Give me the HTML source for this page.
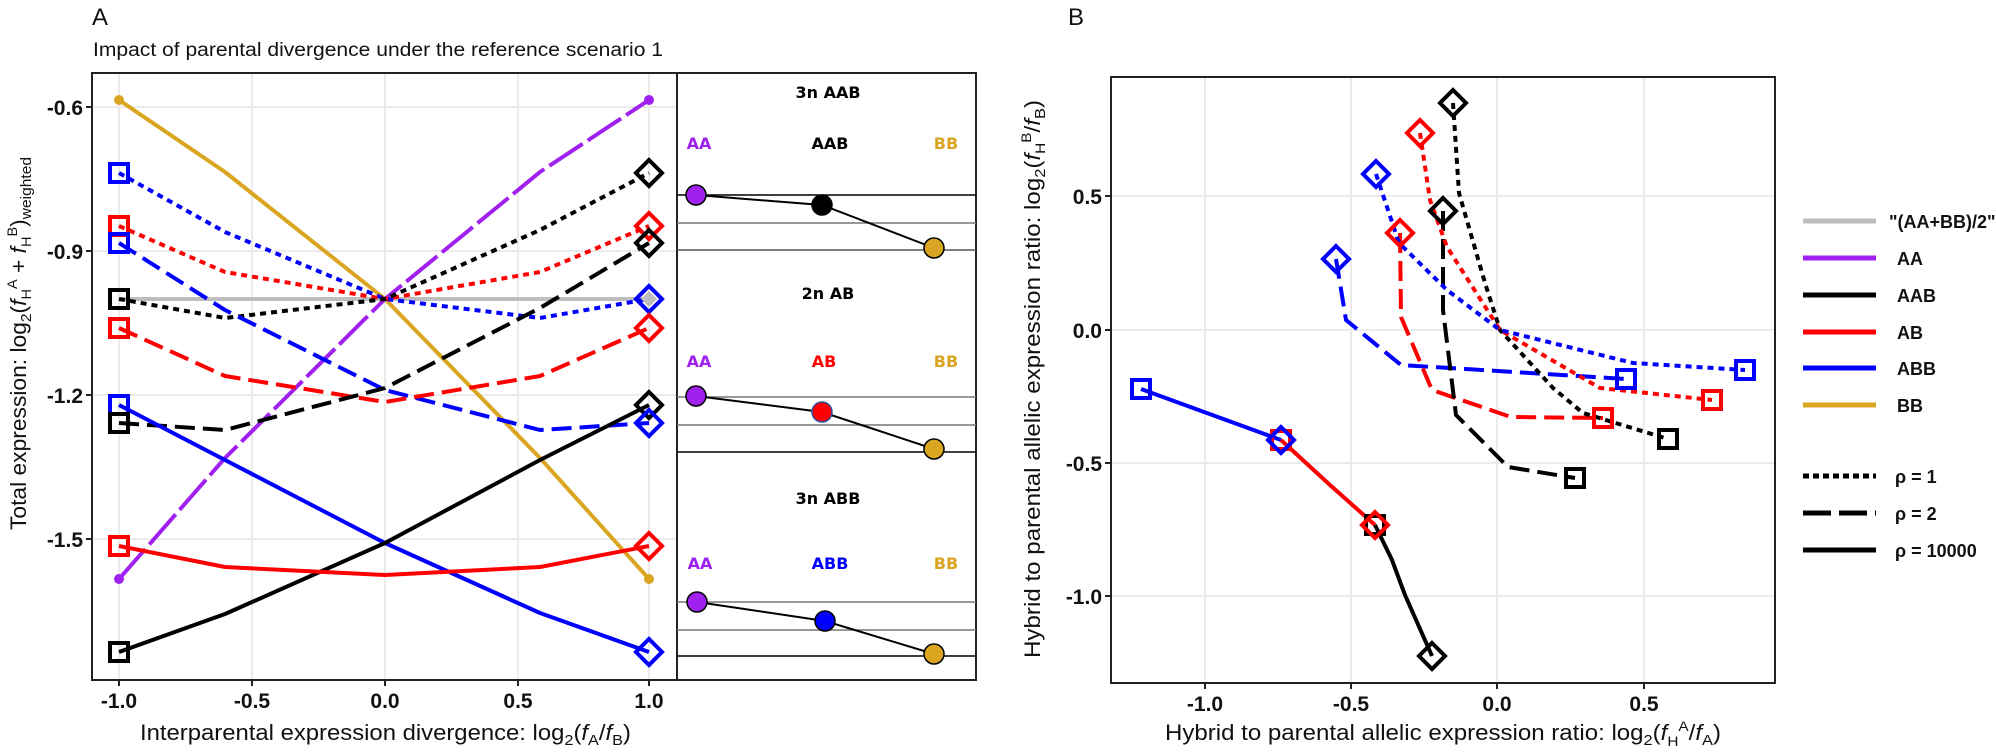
<!DOCTYPE html>
<html><head><meta charset="utf-8"><style>
html,body{margin:0;padding:0;background:#fff;}
svg{display:block;}
.tk{font-family:"Liberation Sans Narrow","Liberation Sans",sans-serif;font-weight:bold;font-size:21px;fill:#111;}
.ti{font-family:"Liberation Sans Narrow","Liberation Sans",sans-serif;font-size:22px;fill:#111;}
.in{font-family:"DejaVu Sans",sans-serif;font-weight:bold;font-size:16px;}
.lg{font-family:"Liberation Sans",sans-serif;font-weight:bold;font-size:18px;fill:#111;}
</style></head><body>
<svg width="1996" height="754" viewBox="0 0 1996 754" xmlns="http://www.w3.org/2000/svg">
<rect width="1996" height="754" fill="#fff"/>
<text x="92" y="25" font-family="Liberation Sans,sans-serif" font-size="24" fill="#111">A</text>
<text x="93" y="56" font-family="Liberation Sans,sans-serif" font-size="19" fill="#111" textLength="570" lengthAdjust="spacingAndGlyphs">Impact of parental divergence under the reference scenario 1</text>
<g stroke="#ebebeb" stroke-width="2">
<line x1="119" y1="73" x2="119" y2="680"/><line x1="252" y1="73" x2="252" y2="680"/><line x1="385" y1="73" x2="385" y2="680"/><line x1="518" y1="73" x2="518" y2="680"/><line x1="649" y1="73" x2="649" y2="680"/>
<line x1="92" y1="107" x2="677" y2="107"/><line x1="92" y1="251" x2="677" y2="251"/><line x1="92" y1="395" x2="677" y2="395"/><line x1="92" y1="539" x2="677" y2="539"/>
</g>
<g fill="none" stroke-width="4" stroke-linejoin="round">
<polyline stroke="#bdbdbd" points="119,299 649,299"/>
<polyline stroke="#daa520" points="119,100 225,172 385,299 540,458 649,579"/>
<polyline stroke="#a020f0" stroke-dasharray="40 6" points="119,579 225,458 385,299 540,172 649,100"/>
<polyline stroke="#0000ff" stroke-dasharray="6 5" points="119,173 225,232 385,299 540,318 649,299"/>
<polyline stroke="#ff0000" stroke-dasharray="6 5" points="119,226 225,272 385,299 540,272 649,226"/>
<polyline stroke="#000" stroke-dasharray="6 5" points="119,299 225,318 385,299 540,230 649,173"/>
<polyline stroke="#0000ff" stroke-dasharray="20 8" points="119,243 225,310 385,390 540,430 649,423"/>
<polyline stroke="#ff0000" stroke-dasharray="20 8" points="119,328 225,376 385,402 540,376 649,328"/>
<polyline stroke="#000" stroke-dasharray="20 8" points="119,423 225,430 385,388 540,308 649,243"/>
<polyline stroke="#0000ff" points="119,405 225,460 385,543 540,613 649,652"/>
<polyline stroke="#000" points="119,652 225,614 385,543 540,460 649,405"/>
<polyline stroke="#ff0000" points="119,546 225,567 385,575 540,567 649,546"/>
</g>
<g fill="#daa520"><circle cx="119" cy="100" r="5"/><circle cx="649" cy="579" r="5"/></g>
<g fill="#a020f0"><circle cx="119" cy="579" r="5"/><circle cx="649" cy="100" r="5"/></g>
<polygon points="649,291 657,299 649,307 641,299" fill="#bdbdbd"/>
<g fill="none" stroke-width="4">
<rect x="110" y="164" width="18" height="18" stroke="#0000ff"/>
<rect x="110" y="217" width="18" height="18" stroke="#ff0000"/>
<rect x="110" y="234" width="18" height="18" stroke="#0000ff"/>
<rect x="110" y="290" width="18" height="18" stroke="#000"/>
<rect x="110" y="319" width="18" height="18" stroke="#ff0000"/>
<rect x="110" y="396" width="18" height="18" stroke="#0000ff"/>
<rect x="110" y="414" width="18" height="18" stroke="#000"/>
<rect x="110" y="537" width="18" height="18" stroke="#ff0000"/>
<rect x="110" y="643" width="18" height="18" stroke="#000"/>
</g>
<g fill="none" stroke-width="4">
<polygon stroke="#000" points="649,160 662,173 649,186 636,173"/>
<polygon stroke="#ff0000" points="649,213 662,226 649,239 636,226"/>
<polygon stroke="#000" points="649,230 662,243 649,256 636,243"/>
<polygon stroke="#0000ff" points="649,286 662,299 649,312 636,299"/>
<polygon stroke="#ff0000" points="649,315 662,328 649,341 636,328"/>
<polygon stroke="#000" points="649,392 662,405 649,418 636,405"/>
<polygon stroke="#0000ff" points="649,410 662,423 649,436 636,423"/>
<polygon stroke="#ff0000" points="649,533 662,546 649,559 636,546"/>
<polygon stroke="#0000ff" points="649,639 662,652 649,665 636,652"/>
</g>
<rect x="92" y="73" width="585" height="607" fill="none" stroke="#222" stroke-width="2"/>
<g stroke="#222" stroke-width="2"><line x1="86" y1="107" x2="92" y2="107"/><line x1="86" y1="251" x2="92" y2="251"/><line x1="86" y1="395" x2="92" y2="395"/><line x1="86" y1="539" x2="92" y2="539"/>
<line x1="119" y1="680" x2="119" y2="686"/><line x1="252" y1="680" x2="252" y2="686"/><line x1="385" y1="680" x2="385" y2="686"/><line x1="518" y1="680" x2="518" y2="686"/><line x1="649" y1="680" x2="649" y2="686"/></g>
<g class="tk" text-anchor="end"><text x="83" y="115">-0.6</text><text x="83" y="259">-0.9</text><text x="83" y="403">-1.2</text><text x="83" y="547">-1.5</text></g>
<g class="tk" text-anchor="middle"><text x="119" y="708">-1.0</text><text x="252" y="708">-0.5</text><text x="385" y="708">0.0</text><text x="518" y="708">0.5</text><text x="649" y="708">1.0</text></g>
<text class="ti" x="140" y="740" textLength="491" lengthAdjust="spacingAndGlyphs">Interparental expression divergence: log<tspan font-size="15" dy="5">2</tspan><tspan dy="-5">(</tspan><tspan font-style="italic">f</tspan><tspan font-size="15" dy="5">A</tspan><tspan dy="-5">/</tspan><tspan font-style="italic">f</tspan><tspan font-size="15" dy="5">B</tspan><tspan dy="-5">)</tspan></text>
<text class="ti" transform="translate(26,530) rotate(-90)" x="0" y="0" textLength="373" lengthAdjust="spacingAndGlyphs">Total expression: log<tspan font-size="15" dy="5">2</tspan><tspan dy="-5">(</tspan><tspan font-style="italic">f</tspan><tspan font-size="14" dy="5">H</tspan><tspan font-size="14" dy="-14">A</tspan><tspan dy="9"> + </tspan><tspan font-style="italic">f</tspan><tspan font-size="14" dy="5">H</tspan><tspan font-size="14" dy="-14">B</tspan><tspan dy="9">)</tspan><tspan font-size="15" dy="5">weighted</tspan></text>
<rect x="677" y="73" width="299" height="607" fill="none" stroke="#222" stroke-width="2"/>
<g stroke-width="1.5">
<line x1="677" y1="195" x2="976" y2="195" stroke="#000"/><line x1="677" y1="223" x2="976" y2="223" stroke="#777"/><line x1="677" y1="250" x2="976" y2="250" stroke="#555"/>
<line x1="677" y1="397" x2="976" y2="397" stroke="#777"/><line x1="677" y1="425" x2="976" y2="425" stroke="#777"/><line x1="677" y1="452" x2="976" y2="452" stroke="#000"/>
<line x1="677" y1="602" x2="976" y2="602" stroke="#777"/><line x1="677" y1="630" x2="976" y2="630" stroke="#777"/><line x1="677" y1="656" x2="976" y2="656" stroke="#000"/>
</g>
<g stroke="#000" stroke-width="2" fill="none"><polyline points="696,195 822,205 934,248"/><polyline points="696,396 822,412 934,449"/><polyline points="697,602 825,621 934,654"/></g>
<g stroke="#000" stroke-width="1.5">
<circle cx="696" cy="195" r="10" fill="#a020f0"/><circle cx="822" cy="205" r="10" fill="#000"/><circle cx="934" cy="248" r="10" fill="#daa520"/>
<circle cx="696" cy="396" r="10" fill="#a020f0"/><circle cx="822" cy="412" r="10" fill="#ff0000" stroke="#3050a0"/><circle cx="934" cy="449" r="10" fill="#daa520"/>
<circle cx="697" cy="602" r="10" fill="#a020f0"/><circle cx="825" cy="621" r="10" fill="#0000ff"/><circle cx="934" cy="654" r="10" fill="#daa520"/>
</g>
<g class="in" text-anchor="middle">
<text x="828" y="98" fill="#000">3n AAB</text>
<text x="699" y="149" fill="#a020f0">AA</text><text x="830" y="149" fill="#000">AAB</text><text x="946" y="149" fill="#daa520">BB</text>
<text x="828" y="299" fill="#000">2n AB</text>
<text x="699" y="367" fill="#a020f0">AA</text><text x="824" y="367" fill="#ff0000">AB</text><text x="946" y="367" fill="#daa520">BB</text>
<text x="828" y="504" fill="#000">3n ABB</text>
<text x="700" y="569" fill="#a020f0">AA</text><text x="830" y="569" fill="#0000ff">ABB</text><text x="946" y="569" fill="#daa520">BB</text>
</g>
<text x="1068" y="25" font-family="Liberation Sans,sans-serif" font-size="24" fill="#111">B</text>
<g stroke="#ebebeb" stroke-width="2">
<line x1="1205" y1="77" x2="1205" y2="683"/><line x1="1351" y1="77" x2="1351" y2="683"/><line x1="1497" y1="77" x2="1497" y2="683"/><line x1="1644" y1="77" x2="1644" y2="683"/>
<line x1="1111" y1="196" x2="1775" y2="196"/><line x1="1111" y1="330" x2="1775" y2="330"/><line x1="1111" y1="463" x2="1775" y2="463"/><line x1="1111" y1="596" x2="1775" y2="596"/>
</g>
<g fill="none" stroke-width="4" stroke-linejoin="round">
<polyline stroke="#0000ff" points="1141,389 1281,440"/>
<polyline stroke="#ff0000" points="1281,440 1330,485 1375,525"/>
<polyline stroke="#000" points="1375,525 1392,560 1405,595 1432,656"/>
<polyline stroke="#0000ff" stroke-dasharray="20 8" points="1336,259 1346,320 1401,365 1626,379"/>
<polyline stroke="#ff0000" stroke-dasharray="20 8" points="1400,233 1401,317 1432,390 1511,417 1603,418"/>
<polyline stroke="#000" stroke-dasharray="20 8" points="1443,211 1443,310 1456,415 1508,467 1575,478"/>
<polyline stroke="#000" stroke-dasharray="6 5" points="1453,103 1459,193 1485,283 1500,330 1553,388 1583,413 1668,439"/>
<polyline stroke="#ff0000" stroke-dasharray="6 5" points="1420,133 1430,200 1447,247 1500,330 1600,388 1712,400"/>
<polyline stroke="#0000ff" stroke-dasharray="6 5" points="1376,174 1399,243 1447,290 1500,330 1633,363 1745,370"/>
</g>
<g fill="none" stroke-width="4">
<rect x="1132" y="380" width="18" height="18" stroke="#0000ff"/>
<rect x="1272" y="431" width="18" height="18" stroke="#ff0000"/>
<rect x="1366" y="516" width="18" height="18" stroke="#000"/>
<rect x="1617" y="370" width="18" height="18" stroke="#0000ff"/>
<rect x="1594" y="409" width="18" height="18" stroke="#ff0000"/>
<rect x="1566" y="469" width="18" height="18" stroke="#000"/>
<rect x="1659" y="430" width="18" height="18" stroke="#000"/>
<rect x="1703" y="391" width="18" height="18" stroke="#ff0000"/>
<rect x="1736" y="361" width="18" height="18" stroke="#0000ff"/>
<polygon stroke="#0000ff" points="1281,427 1294,440 1281,453 1268,440"/>
<polygon stroke="#ff0000" points="1375,512 1388,525 1375,538 1362,525"/>
<polygon stroke="#000" points="1432,643 1445,656 1432,669 1419,656"/>
<polygon stroke="#0000ff" points="1336,246 1349,259 1336,272 1323,259"/>
<polygon stroke="#ff0000" points="1400,220 1413,233 1400,246 1387,233"/>
<polygon stroke="#000" points="1443,198 1456,211 1443,224 1430,211"/>
<polygon stroke="#000" points="1453,90 1466,103 1453,116 1440,103"/>
<polygon stroke="#ff0000" points="1420,120 1433,133 1420,146 1407,133"/>
<polygon stroke="#0000ff" points="1376,161 1389,174 1376,187 1363,174"/>
</g>
<rect x="1111" y="77" width="664" height="606" fill="none" stroke="#222" stroke-width="2"/>
<g stroke="#222" stroke-width="2"><line x1="1105" y1="196" x2="1111" y2="196"/><line x1="1105" y1="330" x2="1111" y2="330"/><line x1="1105" y1="463" x2="1111" y2="463"/><line x1="1105" y1="596" x2="1111" y2="596"/>
<line x1="1205" y1="683" x2="1205" y2="689"/><line x1="1351" y1="683" x2="1351" y2="689"/><line x1="1497" y1="683" x2="1497" y2="689"/><line x1="1644" y1="683" x2="1644" y2="689"/></g>
<g class="tk" text-anchor="end"><text x="1102" y="204">0.5</text><text x="1102" y="338">0.0</text><text x="1102" y="471">-0.5</text><text x="1102" y="604">-1.0</text></g>
<g class="tk" text-anchor="middle"><text x="1205" y="711">-1.0</text><text x="1351" y="711">-0.5</text><text x="1497" y="711">0.0</text><text x="1644" y="711">0.5</text></g>
<text class="ti" x="1165" y="740" textLength="556" lengthAdjust="spacingAndGlyphs">Hybrid to parental allelic expression ratio: log<tspan font-size="15" dy="5">2</tspan><tspan dy="-5">(</tspan><tspan font-style="italic">f</tspan><tspan font-size="14" dy="6">H</tspan><tspan font-size="14" dy="-15">A</tspan><tspan dy="9">/</tspan><tspan font-style="italic">f</tspan><tspan font-size="15" dy="5">A</tspan><tspan dy="-5">)</tspan></text>
<text class="ti" transform="translate(1040,658) rotate(-90)" x="0" y="0" textLength="558" lengthAdjust="spacingAndGlyphs">Hybrid to parental allelic expression ratio: log<tspan font-size="15" dy="5">2</tspan><tspan dy="-5">(</tspan><tspan font-style="italic">f</tspan><tspan font-size="14" dy="5">H</tspan><tspan font-size="14" dy="-14">B</tspan><tspan dy="9">/</tspan><tspan font-style="italic">f</tspan><tspan font-size="15" dy="5">B</tspan><tspan dy="-5">)</tspan></text>
<g stroke-width="5">
<line x1="1803" y1="221" x2="1876" y2="221" stroke="#bdbdbd"/>
<line x1="1803" y1="258" x2="1876" y2="258" stroke="#a020f0"/>
<line x1="1803" y1="295" x2="1876" y2="295" stroke="#000"/>
<line x1="1803" y1="332" x2="1876" y2="332" stroke="#ff0000"/>
<line x1="1803" y1="368" x2="1876" y2="368" stroke="#0000ff"/>
<line x1="1803" y1="405" x2="1876" y2="405" stroke="#daa520"/>
<line x1="1803" y1="476" x2="1876" y2="476" stroke="#000" stroke-dasharray="6 4"/>
<line x1="1803" y1="513" x2="1876" y2="513" stroke="#000" stroke-dasharray="28 8"/>
<line x1="1803" y1="550" x2="1876" y2="550" stroke="#000"/>
</g>
<g class="lg">
<text x="1889" y="228">"(AA+BB)/2"</text>
<text x="1897" y="265">AA</text><text x="1897" y="302">AAB</text><text x="1897" y="339">AB</text><text x="1897" y="375">ABB</text><text x="1897" y="412">BB</text>
</g>
<g font-family="Liberation Sans Narrow,Liberation Sans,sans-serif" font-weight="bold" font-size="18" fill="#111">
<text x="1895" y="483">ρ =  1</text><text x="1895" y="520">ρ =  2</text><text x="1895" y="557">ρ =  10000</text>
</g>
</svg>
</body></html>
